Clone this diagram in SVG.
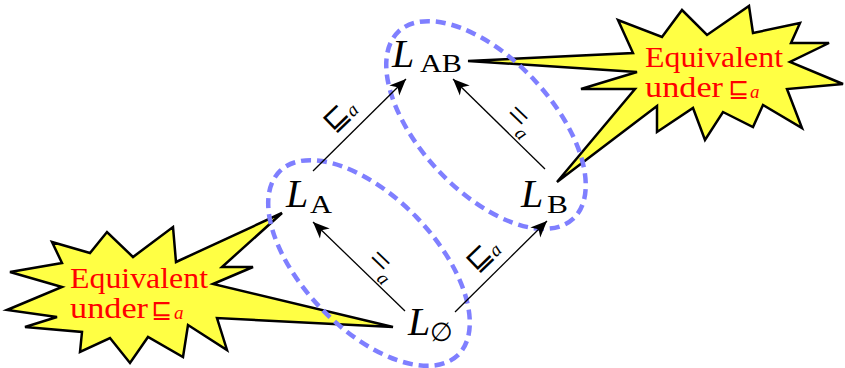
<svg xmlns="http://www.w3.org/2000/svg" width="845" height="368" viewBox="0 0 845 368">
<defs>
<style>
.burst{fill:#ffff44;stroke:#000;stroke-width:2.5;stroke-linejoin:miter}
.btxt{font-family:"Liberation Serif",serif;font-size:29px;fill:#ff0000}
.bsym{font-family:"DejaVu Sans",sans-serif;font-size:25px;fill:#ff0000}
.bsub{font-family:"Liberation Serif",serif;font-style:italic;font-size:19px;fill:#ff0000}
.ell{fill:none;stroke:#7f7fff;stroke-width:4.5;stroke-dasharray:10 6}
.arr{stroke:#000;stroke-width:1.3;fill:none;marker-end:url(#ah)}
.nL{font-family:"Liberation Serif",serif;font-style:italic;font-size:40px;fill:#000}
.nS{font-family:"Liberation Serif",serif;font-size:25px;fill:#000}
.lsq{font-family:"DejaVu Sans",sans-serif;font-size:30px;fill:#000}
.leq{font-family:"Liberation Serif",serif;font-size:36px;fill:#000}
.lsub{font-family:"Liberation Serif",serif;font-style:italic;font-size:19px;fill:#000}
</style>
<marker id="ah" markerUnits="userSpaceOnUse" markerWidth="20" markerHeight="20" refX="0" refY="0" viewBox="-15 -8 17 16" orient="auto" overflow="visible">
<path d="M0,0 L-14,-6 L-10,0 L-14,6 Z" fill="#000"/>
</marker>
</defs>

<g id="callout-right">
<path class="burst" d="M468,61 L633,53 L618,20 L662,37 L682,10 L707,35 L749,6 L753,33 L800,23 L791,43 L829,43 L790,62 L843,84 L787,89 L802,128 L763,105 L753,127 L723,112 L705,140 L693,108 L657,132 L657,106 L557,182 L635,89 L581,89 L637,72 Z"/>
<text class="btxt" x="645" y="67" textLength="138" lengthAdjust="spacingAndGlyphs">Equivalent</text>
<text class="btxt" x="645" y="97" textLength="78" lengthAdjust="spacingAndGlyphs">under</text>
<text class="bsym" x="728" y="97">⊑</text>
<text class="bsub" x="750" y="98">a</text>
</g>

<g id="callout-left">
<path class="burst" d="M52,242 L90,253 L107,232 L133,257 L173,227 L176,262 L282,213 L222,267 L253,267 L213,284 L393,327 L217,318 L227,350 L188,325 L183,357 L148,337 L130,363 L110,338 L80,352 L82,332 L25,327 L57,317 L7,310 L62,287 L10,272 L62,263 Z"/>
<text class="btxt" x="70" y="288" textLength="138" lengthAdjust="spacingAndGlyphs">Equivalent</text>
<text class="btxt" x="70" y="318" textLength="78" lengthAdjust="spacingAndGlyphs">under</text>
<text class="bsym" x="151" y="318">⊑</text>
<text class="bsub" x="174" y="319">a</text>
</g>

<g id="groups">
<ellipse id="group-AB-B" class="ell" cx="486" cy="125" rx="128" ry="66" transform="rotate(47 486 125)"/>
<ellipse id="group-A-empty" class="ell" cx="369" cy="263" rx="128" ry="66" transform="rotate(46 369 263)"/>
</g>

<g id="connectors">
<line class="arr" x1="313" y1="171" x2="406" y2="79"/>
<line class="arr" x1="545" y1="169" x2="453" y2="79"/>
<line class="arr" x1="405" y1="311" x2="313" y2="222"/>
<line class="arr" x1="455" y1="312" x2="547" y2="221"/>
<g transform="translate(339,116) rotate(-44)">
<text class="lsq" x="-16" y="9">⊑</text><text class="lsub" x="9" y="11">a</text>
</g>
<g transform="translate(520,121) rotate(44)">
<text class="leq" x="-15" y="9">=</text><text class="lsub" x="5" y="14">a</text>
</g>
<g transform="translate(382,266) rotate(44)">
<text class="leq" x="-15" y="9">=</text><text class="lsub" x="5" y="14">a</text>
</g>
<g transform="translate(482,256) rotate(-44)">
<text class="lsq" x="-16" y="9">⊑</text><text class="lsub" x="9" y="11">a</text>
</g>
</g>

<g id="node-LAB">
<text class="nL" x="392" y="67">L</text>
<text class="nS" x="420" y="72" textLength="42" lengthAdjust="spacingAndGlyphs">AB</text>
</g>
<g id="node-LA">
<text class="nL" x="286" y="207">L</text>
<text class="nS" x="310" y="213" textLength="22" lengthAdjust="spacingAndGlyphs">A</text>
</g>
<g id="node-LB">
<text class="nL" x="521" y="207">L</text>
<text class="nS" x="547" y="213" textLength="21" lengthAdjust="spacingAndGlyphs">B</text>
</g>
<g id="node-Lempty">
<text class="nL" x="408" y="335">L</text>
<text x="430" y="341" style="font-family:'DejaVu Serif',serif;font-size:26px;fill:#000">∅</text>
</g>
</svg>
